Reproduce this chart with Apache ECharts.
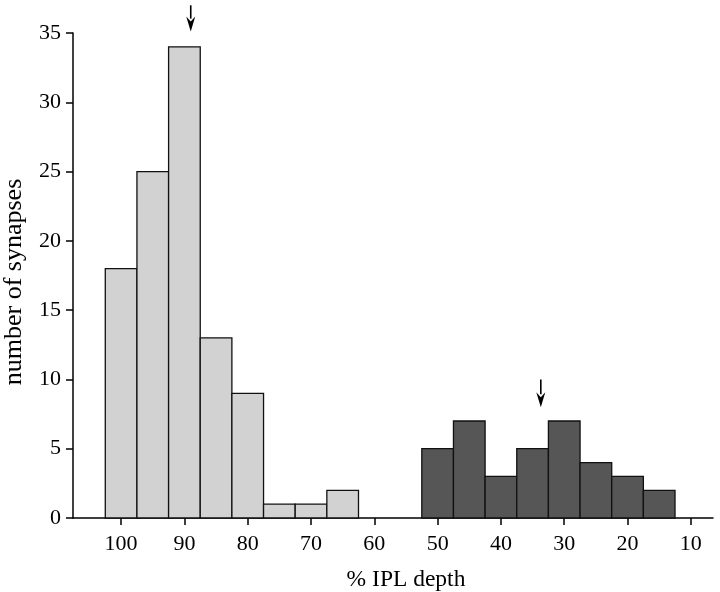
<!DOCTYPE html>
<html>
<head>
<meta charset="utf-8">
<script src="https://cdn.jsdelivr.net/npm/echarts@6/dist/echarts.min.js"></script>
<style>
html,body{margin:0;padding:0;background:#fff;}
#chart{width:720px;height:592px;}
</style>
</head>
<body>
<div id="chart"></div>
<script>
// Histogram bins (% IPL depth, bin centres) and counts
var lightBins = [100, 95, 90, 85, 80, 75, 70, 65];
var lightCounts = [18, 25, 34, 13, 9, 1, 1, 2];
var darkBins = [50, 45, 40, 35, 30, 25, 20, 15];
var darkCounts = [5, 7, 3, 5, 7, 4, 3, 2];
var binWidth = 5;
var xTicks = [100, 90, 80, 70, 60, 50, 40, 30, 20, 10];
var yTicks = [0, 5, 10, 15, 20, 25, 30, 35];
// Arrows: x position, top y, tip y (data units)
var arrowX = [89, 33.7];
var arrowTop = [37, 10];
var arrowTip = [35.1, 8];

var FONT = 'Liberation Serif';

function zip(a, b) { return a.map(function (v, i) { return [v, b[i]]; }); }

function barRenderer(fill) {
  return function (params, api) {
    var x = api.value(0), v = api.value(1);
    var p0 = api.coord([x + binWidth / 2, 0]);
    var p1 = api.coord([x - binWidth / 2, v]);
    return {
      type: 'rect',
      shape: {
        x: Math.min(p0[0], p1[0]),
        y: Math.min(p0[1], p1[1]),
        width: Math.abs(p1[0] - p0[0]),
        height: Math.abs(p0[1] - p1[1])
      },
      style: { fill: fill, stroke: '#111', lineWidth: 1.3 }
    };
  };
}

var arrowData = arrowX.map(function (x, i) { return [x, arrowTop[i], arrowTip[i]]; });

var chart = echarts.init(document.getElementById('chart'), null, { renderer: 'canvas' });
chart.setOption({
  backgroundColor: '#fff',
  animation: false,
  grid: { left: 73, right: 7, top: 33, bottom: 74, containLabel: false, outerBoundsMode: 'none' },
  xAxis: {
    type: 'value',
    inverse: true,
    min: 6.5,
    max: 107.6,
    name: '% IPL depth',
    nameLocation: 'middle',
    nameGap: 50,
    nameTextStyle: { fontFamily: FONT, fontSize: 23.5, color: '#000', padding: [0, 0, 0, 26] },
    axisLine: { show: true, onZero: false, lineStyle: { color: '#000', width: 1.5 } },
    axisTick: { show: true, inside: false, length: 7, customValues: xTicks, lineStyle: { color: '#000', width: 1.5 } },
    axisLabel: { customValues: xTicks, margin: 15, fontFamily: FONT, fontSize: 22, color: '#000' },
    splitLine: { show: false }
  },
  yAxis: {
    type: 'value',
    min: 0,
    max: 35,
    interval: 5,
    name: 'number of synapses',
    nameLocation: 'middle',
    nameGap: 46,
    nameTextStyle: { fontFamily: FONT, fontSize: 26, color: '#000', padding: [0, 13, 0, 0] },
    axisLine: { show: true, lineStyle: { color: '#000', width: 1.5 } },
    axisTick: { show: true, inside: false, length: 7, lineStyle: { color: '#000', width: 1.5 } },
    axisLabel: { margin: 12, fontFamily: FONT, fontSize: 22, color: '#000' },
    splitLine: { show: false }
  },
  series: [
    {
      type: 'custom',
      name: 'light',
      renderItem: barRenderer('#d2d2d2'),
      data: zip(lightBins, lightCounts),
      encode: { x: 0, y: 1 }
    },
    {
      type: 'custom',
      name: 'dark',
      renderItem: barRenderer('#565656'),
      data: zip(darkBins, darkCounts),
      encode: { x: 0, y: 1 }
    },
    {
      type: 'custom',
      name: 'arrows',
      clip: false,
      z: 10,
      renderItem: function (params, api) {
        var x = api.value(0);
        var top = api.coord([x, api.value(1)]);
        var tip = api.coord([x, api.value(2)]);
        var headLen = 15, headW = 4.5;
        return {
          type: 'group',
          children: [
            {
              type: 'line',
              shape: { x1: top[0], y1: top[1], x2: tip[0], y2: tip[1] - headLen + 2 },
              style: { stroke: '#000', lineWidth: 1.6 }
            },
            {
              type: 'polygon',
              shape: { points: [[tip[0] - headW, tip[1] - headLen], [tip[0], tip[1] - headLen + 5], [tip[0] + headW, tip[1] - headLen], [tip[0], tip[1]]] },
              style: { fill: '#000' }
            }
          ]
        };
      },
      data: arrowData,
      encode: { x: 0, y: 1 }
    }
  ]
});
</script>
</body>
</html>
